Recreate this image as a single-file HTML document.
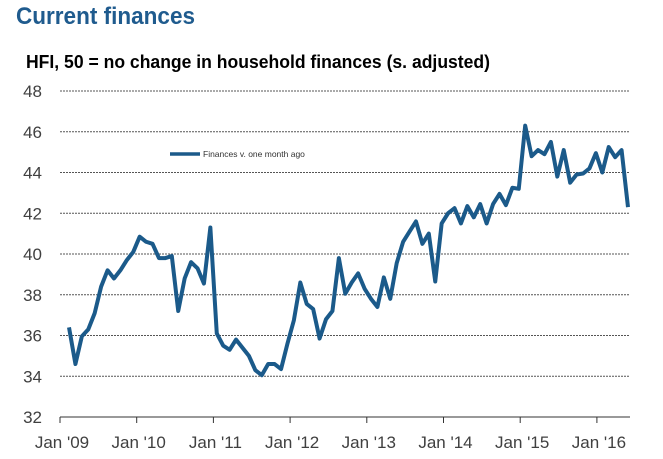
<!DOCTYPE html>
<html><head><meta charset="utf-8"><style>
body{margin:0;background:#fff;}
svg{display:block;font-family:"Liberation Sans",Arial,sans-serif;}
</style></head><body>
<svg id="chart" width="663" height="459" viewBox="0 0 663 459">
<text x="16" y="24" font-size="24" font-weight="bold" fill="#1f5b8e" textLength="179" lengthAdjust="spacingAndGlyphs">Current finances</text>
<text x="26" y="68" font-size="18" font-weight="bold" fill="#000" textLength="464" lengthAdjust="spacingAndGlyphs">HFI, 50 = no change in household finances (s. adjusted)</text>
<g id="grid"></g>
<g id="yaxis"></g>
<g id="xaxis"></g>
<g id="series"></g>
<g>
<line x1="170" y1="154" x2="200" y2="154" stroke="#1b5a8a" stroke-width="3.5"/>
<text x="203" y="157" font-size="8.5" fill="#333">Finances v. one month ago</text>
</g>
</svg>
<script>
const yTicks = [32,34,36,38,40,42,44,46,48];
const xTickLabels = ["Jan '09","Jan '10","Jan '11","Jan '12","Jan '13","Jan '14","Jan '15","Jan '16"];
const values = [36.4,34.6,35.96,36.3,37.1,38.4,39.2,38.8,39.2,39.7,40.1,40.85,40.6,40.5,39.8,39.8,39.9,37.2,38.8,39.6,39.3,38.55,41.3,36.1,35.5,35.3,35.8,35.4,35.0,34.3,34.05,34.6,34.6,34.35,35.6,36.75,38.6,37.55,37.3,35.85,36.8,37.2,
39.8,38.05,38.6,39.05,38.3,37.8,37.4,38.85,37.8,39.55,40.6,41.1,41.6,40.5,41.0,38.65,41.5,42.0,42.25,41.5,42.35,41.8,42.45,41.5,42.45,42.95,42.4,43.25,43.2,46.3,44.8,45.1,44.9,45.5,43.8,45.1,43.5,43.9,43.95,44.2,44.95,44.0,45.25,44.75,45.1,42.3];
const NS="http://www.w3.org/2000/svg";
const X0=60,X1=630,Y0=417,Y1=91;
function y(v){return Y0-(v-32)/(48-32)*(Y0-Y1);}
function xTick(i){return X0+i*76.7;}
function x(i){return 69+i*(628-69)/(values.length-1);}
function mk(t,a,p){const e=document.createElementNS(NS,t);for(const k in a)e.setAttribute(k,a[k]);p.appendChild(e);return e;}
const grid=document.getElementById('grid'),ya=document.getElementById('yaxis'),xa=document.getElementById('xaxis'),se=document.getElementById('series');
yTicks.forEach(v=>{
 if(v>32){const l=mk('line',{x1:X0,x2:X1,y1:y(v),y2:y(v),stroke:'#555','stroke-width':1,'stroke-dasharray':'2,1'},grid);
 
 }
 const t=mk('text',{x:42,y:y(v)+6,'font-size':17,fill:'#404040','text-anchor':'end'},ya);t.textContent=v;
 
 
});
const ax=mk('line',{x1:X0,x2:X1,y1:Y0,y2:Y0,stroke:'#333','stroke-width':1},xa);


xTickLabels.forEach((s,i)=>{
 const tk=mk('line',{x1:xTick(i),x2:xTick(i),y1:Y0,y2:Y0+6,stroke:'#333'},xa);
 
 
 const t=mk('text',{x:xTick(i)+2,y:Y0+31,'font-size':17,fill:'#404040','text-anchor':'middle'},xa);t.textContent=s;
 
 
});
const pl=mk('polyline',{points:values.map((v,i)=>x(i)+','+y(v)).join(' '),fill:'none',stroke:'#1b5a8a','stroke-width':4,'stroke-linejoin':'round'},se);


</script>
</body></html>
